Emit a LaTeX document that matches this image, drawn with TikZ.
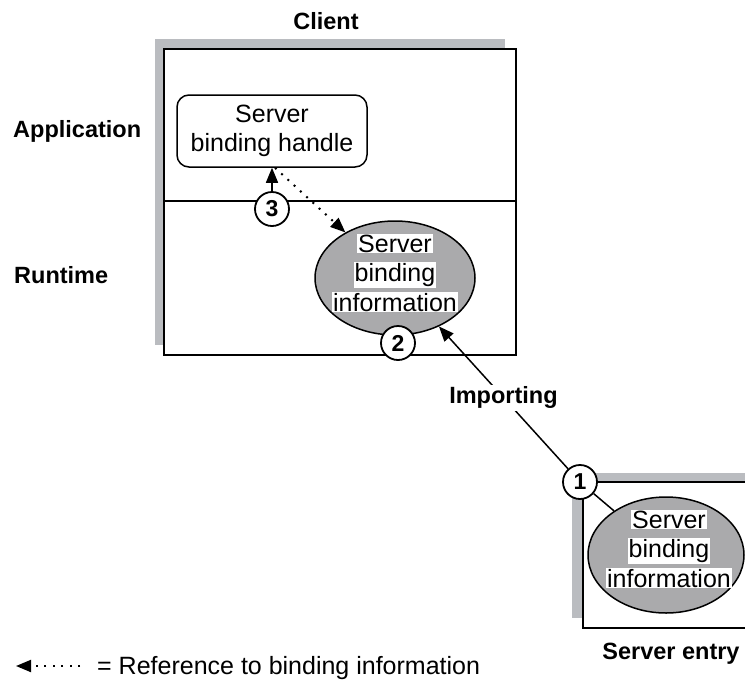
\documentclass[tikz,border=0pt]{standalone}
\usepackage{fontspec}
\setmainfont{Liberation Sans}
\usepackage{tikz}
\usetikzlibrary{arrows.meta,shapes.geometric}

\definecolor{shadowgray}{RGB}{186,188,192}
\definecolor{infogray}{RGB}{170,170,172}
\newcommand{\wbox}[1]{{\setlength{\fboxsep}{1pt}\colorbox{white}{#1}}}

\begin{document}
\begin{tikzpicture}[x=1pt,y=-1pt,
    lbl/.style={font=\fontsize{23.5}{29}\selectfont\bfseries,inner sep=0pt},
    txt/.style={font=\fontsize{25}{29.5}\selectfont,align=center,inner sep=0pt},
    num/.style={circle,draw,line width=1.8pt,fill=white,inner sep=0pt,minimum size=34pt,font=\fontsize{23}{23}\selectfont\bfseries},
    info/.style={ellipse,draw,line width=1.5pt,fill=infogray,inner sep=0pt,minimum width=160pt,minimum height=114pt},
    handlebox/.style={draw,line width=1.5pt,rounded corners=12pt,minimum width=190pt,minimum height=72pt,txt},
    arr/.style={-{Triangle[length=15pt,width=12pt]},line width=1.5pt},
    dotarr/.style={arr,line width=2pt,dash pattern=on 2pt off 6.5pt}]
    \useasboundingbox (0,0) rectangle (745,681);
    \fill[shadowgray] (155,39) rectangle (505,345);
    \draw[line width=1.8pt,fill=white] (164,49) rectangle (516,355);
    \draw[line width=1.5pt] (164,201) -- (516,201);
    \node[lbl,anchor=base] at (326,29) {Client};
    \node[lbl,anchor=base west] at (13,137) {Application};
    \node[lbl,anchor=base west] at (14,283) {Runtime};
    \node[handlebox] (handle) at (272,131) {Server\\binding handle};
    \node[info] (cinfo) at (395,278) {};
    \node[txt] at (395,273) {\wbox{Server}\\\wbox{binding}\\\wbox{information}};
    \node[num] (n3) at (272,209) {3};
    \node[num] (n2) at (398,343) {2};
    \draw[arr] (n3) -- (handle.south);
    \draw[dotarr] ([xshift=3pt]handle.south) -- (cinfo);
    \fill[shadowgray] (572,473) rectangle (745,618);
    \draw[line width=1.8pt,fill=white] (745,482) -- (583,482) -- (583,628) -- (745,628);
    \node[info,minimum width=156pt,minimum height=116pt] (sinfo) at (666,555) {};
    \node[txt] at (669,549) {\wbox{Server}\\\wbox{binding}\\\wbox{information}};
    \node[lbl,anchor=base] at (671,659) {Server entry};
    \node[num] (n1) at (580,482) {1};
    \draw[arr] (n1) -- (cinfo) node[pos=0.5,lbl,fill=white,inner sep=2pt] {Importing};
    \draw[line width=1.5pt] (n1) -- (sinfo);
    \coordinate (legfrom) at (80,666);
    \coordinate (legto) at (16,666);
    \draw[dotarr] (legfrom) -- (legto);
    \node[txt,anchor=base west] at (97,674) {= Reference to binding information};
\end{tikzpicture}
\end{document}
